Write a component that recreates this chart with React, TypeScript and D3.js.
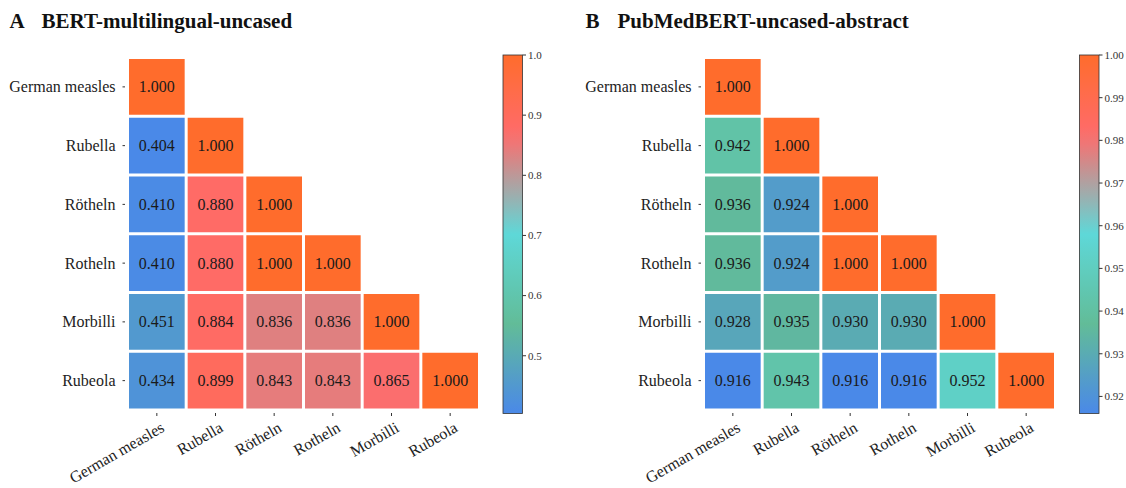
import React from "react";
import * as d3 from "d3";

const labels = ["German measles", "Rubella", "Rötheln", "Rotheln", "Morbilli", "Rubeola"];

// lower triangle, row by row
const bertValues = [
  [1.0],
  [0.404, 1.0],
  [0.41, 0.88, 1.0],
  [0.41, 0.88, 1.0, 1.0],
  [0.451, 0.884, 0.836, 0.836, 1.0],
  [0.434, 0.899, 0.843, 0.843, 0.865, 1.0],
];
const pubmedValues = [
  [1.0],
  [0.942, 1.0],
  [0.936, 0.924, 1.0],
  [0.936, 0.924, 1.0, 1.0],
  [0.928, 0.935, 0.93, 0.93, 1.0],
  [0.916, 0.943, 0.916, 0.916, 0.952, 1.0],
];
const bertTicks = [0.5, 0.6, 0.7, 0.8, 0.9, 1.0];
const pubmedTicks = [0.92, 0.93, 0.94, 0.95, 0.96, 0.97, 0.98, 0.99, 1.0];

const cmapStops = [0, 0.25, 0.5, 0.78, 1];
const cmapColors = ["#4a89e8", "#62bc98", "#5ed8d8", "#ff6b6b", "#ff6c2c"];
const cmap = d3.scaleLinear<string>().domain(cmapStops).range(cmapColors).interpolate(d3.interpolateRgb).clamp(true);

const FONT = "'Liberation Serif', 'Times New Roman', serif";

function Panel({ letter, title, values, domain, ticks, fmt, x0, cbX }) {
  const x = d3.scaleBand().domain(labels).range([x0, x0 + 352]);
  const y = d3.scaleBand().domain(labels).range([57.5, 410]);
  const norm = d3.scaleLinear().domain(domain).range([0, 1]);
  const cbY = d3.scaleLinear().domain(domain).range([413.5, 55]);
  const gradId = "grad" + letter;
  const gradStops = d3.range(0, 1.0001, 0.05);

  return (
    <g>
      <text x={x0 - 118} y={28} fontFamily={FONT} fontWeight="bold" fontSize={21} fill="#111">{letter}</text>
      <text x={x0 - 86} y={28} fontFamily={FONT} fontWeight="bold" fontSize={21} fill="#111">{title}</text>
      {values.map((row, i) =>
        row.map((v, j) => (
          <g key={i + "-" + j}>
            <rect x={x(labels[j]) + 1.5} y={y(labels[i]) + 1.5} width={x.bandwidth() - 3} height={y.bandwidth() - 3} fill={cmap(norm(v))} />
            <text x={x(labels[j]) + x.bandwidth() / 2} y={y(labels[i]) + y.bandwidth() / 2} dy="0.35em" textAnchor="middle" fontFamily={FONT} fontSize={16} fill="#1a1a1a">{v.toFixed(3)}</text>
          </g>
        ))
      )}
      {labels.map((l) => (
        <g key={"y" + l}>
          <line x1={x0 - 5} x2={x0 - 2.5} y1={y(l) + y.bandwidth() / 2} y2={y(l) + y.bandwidth() / 2} stroke="#333" />
          <text x={x0 - 12} y={y(l) + y.bandwidth() / 2} dy="0.35em" textAnchor="end" fontFamily={FONT} fontSize={16} fill="#222">{l}</text>
        </g>
      ))}
      {labels.map((l) => {
        const cx = x(l) + x.bandwidth() / 2;
        return (
          <g key={"x" + l}>
            <line x1={cx} x2={cx} y1={413} y2={416} stroke="#333" />
            <text transform={`translate(${cx + 3},${421}) rotate(-30)`} dy="0.7em" textAnchor="end" fontFamily={FONT} fontSize={16} fill="#222">{l}</text>
          </g>
        );
      })}
      <defs>
        <linearGradient id={gradId} x1="0" y1="1" x2="0" y2="0">
          {gradStops.map((t) => (
            <stop key={t} offset={t} stopColor={cmap(t)} />
          ))}
        </linearGradient>
      </defs>
      <rect x={cbX} y={55} width={19.5} height={358.5} fill={`url(#${gradId})`} stroke="#333" strokeWidth={0.8} />
      {ticks.map((t) => (
        <g key={"t" + t}>
          <line x1={cbX + 19.5} x2={cbX + 23} y1={cbY(t)} y2={cbY(t)} stroke="#333" />
          <text x={cbX + 25} y={cbY(t)} dy="0.35em" fontFamily={FONT} fontSize={11} fill="#333">{fmt(t)}</text>
        </g>
      ))}
    </g>
  );
}

export default function App() {
  return (
    <svg width={1126} height={488} style={{ position: "absolute", left: 0, top: 0, background: "#fff" }}>
      <Panel letter="A" title="BERT-multilingual-uncased" values={bertValues} domain={[0.404, 1.0]} ticks={bertTicks} fmt={d3.format(".1f")} x0={127.5} cbX={503} />
      <Panel letter="B" title="PubMedBERT-uncased-abstract" values={pubmedValues} domain={[0.916, 1.0]} ticks={pubmedTicks} fmt={d3.format(".2f")} x0={703.5} cbX={1079.5} />
    </svg>
  );
}
